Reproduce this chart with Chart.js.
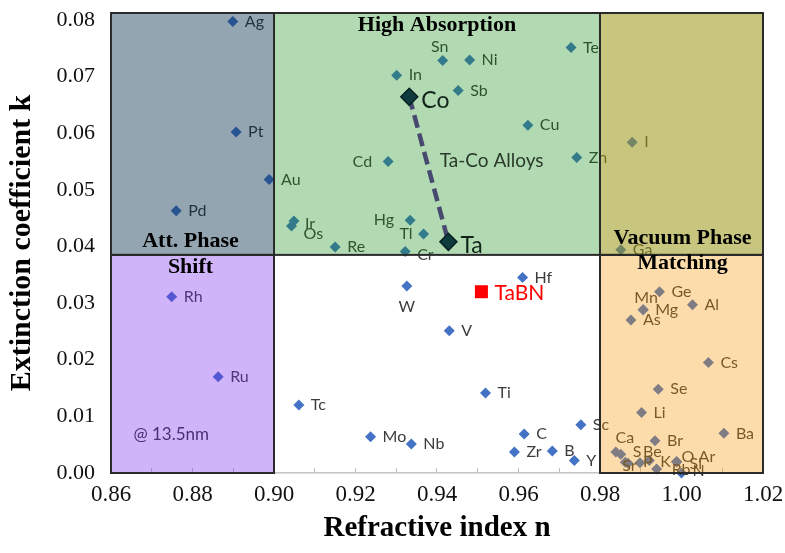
<!DOCTYPE html>
<html>
<head>
<meta charset="utf-8">
<script src="https://cdn.jsdelivr.net/npm/chart.js@4.4.1/dist/chart.umd.min.js"></script>
<style>
  html, body { margin: 0; padding: 0; background: #ffffff; }
  #wrap { width: 785px; height: 553px; }
</style>
</head>
<body>
<div id="wrap"><canvas id="chart" width="785" height="553"></canvas></div>
<script>
// Optical constants at 13.5 nm: refractive index n and extinction coefficient k
const elementNames = ['Ag','Pt','Au','Pd','Rh','Ru','Sn','Ni','Te','In','Sb','Cu','Cd','Zn','Ir','Os','Hg','Tl','Re','Cr',
  'I','Ga','Hf','W','V','Ti','Tc','Mo','Nb','C','Sc','Zr','B','Y','Ge','Mn','Mg','As','Al','Cs','Se','Li','Ba','Br',
  'Ca','S','Sr','P','Be','K','Rb','O','Si','Ar','N'];
const elementN = [0.8899,0.8907,0.8988,0.8760,0.8749,0.8863,0.9414,0.9480,0.9729,0.9301,0.9452,0.9623,0.9280,0.9743,0.9049,0.9043,0.9334,0.9367,0.9150,0.9322,
  0.9879,0.9851,0.9610,0.9326,0.9430,0.9519,0.9061,0.9237,0.9337,0.9614,0.9753,0.9590,0.9683,0.9737,0.9946,0.9906,0.9906,0.9876,1.0027,1.0066,0.9943,0.9902,1.0104,0.9935,
  0.9839,0.9851,0.9862,0.9869,0.9898,0.9921,0.9939,0.9988,0.9988,0.9988,1.0000];
const elementK = [0.0797,0.0602,0.0518,0.0463,0.0311,0.0170,0.0728,0.0729,0.0751,0.0702,0.0675,0.0614,0.0550,0.0557,0.0445,0.0436,0.0446,0.0422,0.0399,0.0391,
  0.0584,0.0394,0.0345,0.0330,0.0251,0.0141,0.0120,0.0064,0.0051,0.0069,0.0085,0.0037,0.0039,0.0022,0.0320,0.0288,0.0288,0.0270,0.0297,0.0195,0.0148,0.0107,0.0070,0.0057,
  0.0037,0.0033,0.0019,0.0017,0.0018,0.0022,0.0007,0.0020,0.0020,0.0020,0.0000];

// Ta-Co alloy end members and the TaBN absorber
const alloyNames = ['Co', 'Ta'];
const alloyN = [0.9332, 0.9428];
const alloyK = [0.0664, 0.0408];
const tabnNames = ['TaBN'];
const tabnN = [0.9509];
const tabnK = [0.0320];

// Axis ticks
const nTickLabels = ['0.86','0.88','0.90','0.92','0.94','0.96','0.98','1.00','1.02'];
const nMinorTicks = [0.86,0.87,0.88,0.89,0.90,0.91,0.92,0.93,0.94,0.95,0.96,0.97,0.98,0.99,1.00,1.01,1.02];
const kTicks = [0,0.01,0.02,0.03,0.04,0.05,0.06,0.07,0.08];

// Material regions (n range, k range)
const regionNMin = [0.86, 0.90, 0.98, 0.86, 0.98];
const regionNMax = [0.90, 0.98, 1.02, 0.90, 1.02];
const regionKMin = [0.0385, 0.0385, 0.0385, 0.0, 0.0];
const regionKMax = [0.0812, 0.0812, 0.0812, 0.0385, 0.0385];

// translucent region tints
const regionFill = ['rgba(0,41,72,0.42)', 'rgba(17,139,14,0.32)', 'rgba(155,150,20,0.55)',
                    'rgba(121,41,241,0.35)', 'rgba(249,149,0,0.33)'];

// label placement: [textAlign, dx, dy] in px relative to the marker
const labelPlacement = {
  Sn: ['center', -3, -14], Cd: ['right', -16, 0], Hg: ['right', -16, 0], Tl: ['right', -11, 0],
  W: ['center', 0, 21], Cr: ['left', 12, 3], Ir: ['left', 11, 3], Os: ['left', 12, 8],
  Mn: ['center', 3, -12], Ca: ['center', 9, -14], S: ['left', 12, -2], Be: ['left', 3, -11],
  P: ['left', 15, -2], Sr: ['left', -3, 4], K: ['left', 11, 1], Rb: ['left', 15, 1],
  O: ['left', 5, -5], Si: ['left', 13, 2], Ar: ['left', 22, -5], N: ['left', 11, -2]
};

const LABEL_FONT = '"Lato", "Open Sans", sans-serif';
const SERIF = '"Liberation Serif", "Times New Roman", serif';

function toPoints(xs, ys) { return xs.map((x, i) => ({ x: x, y: ys[i] })); }

// Element names + region tints, painted right after the element markers
const regionPlugin = {
  id: 'regions',
  afterDatasetDraw(chart, args) {
    if (args.index !== 2) return;
    const ctx = chart.ctx;
    const xs = chart.scales.x, ys = chart.scales.y;
    ctx.save();
    ctx.font = '16px ' + LABEL_FONT;
    ctx.fillStyle = '#3c3c3c';
    ctx.textBaseline = 'middle';
    args.meta.data.forEach((pt, i) => {
      const name = elementNames[i];
      const p = labelPlacement[name] || ['left', 12, 0];
      ctx.textAlign = p[0];
      ctx.fillText(name, pt.x + p[1], pt.y + p[2]);
    });
    // wavelength note
    ctx.font = '17px ' + LABEL_FONT;
    ctx.fillStyle = '#333333';
    ctx.textAlign = 'left';
    ctx.fillText('@ 13.5nm', xs.getPixelForValue(0.8655), ys.getPixelForValue(0.0068));

    regionNMin.forEach((n0, i) => {
      const x0 = xs.getPixelForValue(n0), x1 = xs.getPixelForValue(regionNMax[i]);
      const y0 = ys.getPixelForValue(regionKMax[i]), y1 = ys.getPixelForValue(regionKMin[i]);
      ctx.fillStyle = regionFill[i];
      ctx.fillRect(x0, y0, x1 - x0, y1 - y0);
    });
    ctx.strokeStyle = '#2a2a2a';
    ctx.lineWidth = 2;
    regionNMin.forEach((n0, i) => {
      const x0 = xs.getPixelForValue(n0), x1 = xs.getPixelForValue(regionNMax[i]);
      const y0 = ys.getPixelForValue(regionKMax[i]), y1 = ys.getPixelForValue(regionKMin[i]);
      ctx.strokeRect(x0, y0, x1 - x0, y1 - y0);
    });
    ctx.restore();
  },
  afterDatasetsDraw(chart) {
    const ctx = chart.ctx;
    const xs = chart.scales.x, ys = chart.scales.y;
    ctx.save();
    ctx.textBaseline = 'middle';
    // alloy end-member labels
    ctx.font = '23px ' + LABEL_FONT;
    ctx.fillStyle = '#12241a';
    ctx.textAlign = 'left';
    chart.getDatasetMeta(0).data.forEach((pt, i) => {
      ctx.fillText(alloyNames[i], pt.x + 12, pt.y + 4);
    });
    ctx.font = '19px ' + LABEL_FONT;
    ctx.fillStyle = '#2b3a2b';
    ctx.textAlign = 'center';
    ctx.fillText('Ta-Co Alloys', xs.getPixelForValue(0.9534), ys.getPixelForValue(0.0551));
    // TaBN label
    ctx.font = '21px ' + LABEL_FONT;
    ctx.fillStyle = '#ff0000';
    ctx.textAlign = 'left';
    chart.getDatasetMeta(1).data.forEach((pt, i) => {
      ctx.fillText(tabnNames[i], pt.x + 13, pt.y + 2);
    });
    // region titles
    ctx.font = 'bold 22px ' + SERIF;
    ctx.fillStyle = '#000000';
    ctx.textAlign = 'center';
    const yDiv = ys.getPixelForValue(regionKMin[0]);
    const cx = i => (xs.getPixelForValue(regionNMin[i]) + xs.getPixelForValue(regionNMax[i])) / 2;
    ctx.fillText('High Absorption', cx(1), ys.getPixelForValue(regionKMax[1]) + 12);
    ctx.fillText('Att. Phase', cx(0) - 2, yDiv - 14);
    ctx.fillText('Shift', cx(3) - 2, yDiv + 12);
    ctx.fillText('Vacuum Phase', cx(2) + 1, yDiv - 17);
    ctx.fillText('Matching', cx(4) + 1, yDiv + 8);
    ctx.restore();
  }
};

new Chart(document.getElementById('chart'), {
  type: 'scatter',
  data: {
    datasets: [
      {
        label: 'Ta-Co alloys',
        data: toPoints(alloyN, alloyK),
        showLine: true,
        borderColor: '#474a6e',
        borderWidth: 4.5,
        borderDash: [13, 6],
        pointStyle: 'rectRot',
        pointRadius: 8.5,
        pointBackgroundColor: '#0f3b3e',
        pointBorderColor: '#062222',
        pointBorderWidth: 1.5,
        clip: false
      },
      {
        label: 'TaBN',
        data: toPoints(tabnN, tabnK),
        pointStyle: 'rect',
        pointRadius: 9.2,
        backgroundColor: '#ff0000',
        borderWidth: 0
      },
      {
        label: 'Elements',
        data: toPoints(elementN, elementK),
        pointStyle: 'rectRot',
        pointRadius: 5.5,
        backgroundColor: '#4472c4',
        borderWidth: 0,
        clip: false
      }
    ]
  },
  options: {
    responsive: false,
    animation: false,
    devicePixelRatio: 1,
    layout: { padding: { top: 13, right: 22, left: 0, bottom: 0 } },
    plugins: { legend: { display: false }, tooltip: { enabled: false } },
    scales: {
      x: {
        type: 'linear',
        min: 0.86,
        max: 1.02,
        afterBuildTicks: s => { s.ticks = nMinorTicks.map(v => ({ value: v })); },
        afterFit: s => { s.height = 80; s.paddingLeft = 0; s.paddingRight = 0; },
        ticks: {
          autoSkip: false,
          maxRotation: 0,
          padding: 13,
          color: '#111111',
          font: { family: SERIF, size: 23 },
          callback: v => { const t = Number(v).toFixed(2); return nTickLabels.includes(t) ? t : ''; }
        },
        grid: { drawOnChartArea: false, drawTicks: true, tickLength: -5, color: '#bfbfbf', lineWidth: 1 },
        border: { color: '#c4c4c4', width: 1.5 },
        title: {
          display: true,
          text: 'Refractive index n',
          color: '#000000',
          font: { family: SERIF, size: 29, weight: 'bold' },
          padding: { top: 0, bottom: 7 }
        }
      },
      y: {
        type: 'linear',
        min: 0,
        max: 0.0812,
        afterBuildTicks: s => { s.ticks = kTicks.map(v => ({ value: v })); },
        afterFit: s => { s.width = 111; s.paddingTop = 0; s.paddingBottom = 0; },
        ticks: {
          padding: 16,
          color: '#111111',
          font: { family: SERIF, size: 22 },
          callback: v => Number(v).toFixed(2)
        },
        grid: { display: false, drawTicks: false },
        border: { color: '#c4c4c4', width: 1.5 },
        title: {
          display: true,
          text: 'Extinction coefficient k',
          color: '#000000',
          font: { family: SERIF, size: 30, weight: 'bold' },
          padding: { top: 4, bottom: 0 }
        }
      }
    }
  },
  plugins: [regionPlugin]
});
</script>
</body>
</html>
